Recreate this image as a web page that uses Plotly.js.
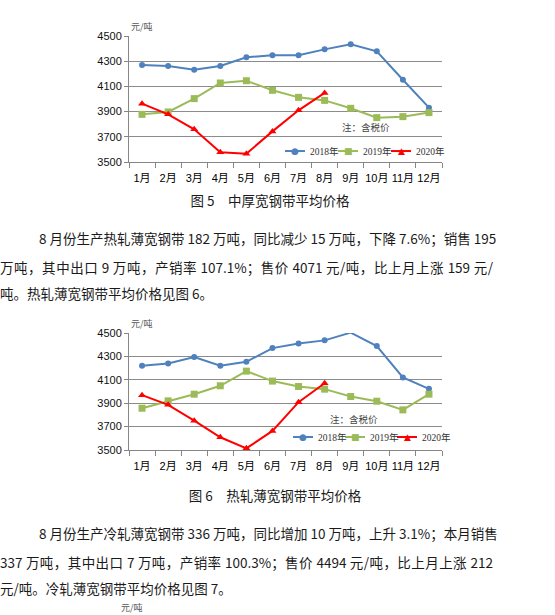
<!DOCTYPE html>
<html>
<head>
<meta charset="utf-8">
<script src="https://cdn.plot.ly/plotly-3.0.1.min.js"></script>
<style>
html,body{margin:0;padding:0;background:#fff;width:555px;height:615px;overflow:hidden;}
.t{position:absolute;font-family:"Noto Sans CJK SC","Liberation Serif",serif;font-size:13.5px;line-height:20px;color:#1a1a1a;white-space:nowrap;}
.j{text-align:justify;text-align-last:justify;}
.c{position:absolute;}
</style>
</head>
<body>
<div id="c1" class="c" style="left:0;top:10px;width:555px;height:185px;"></div>
<div id="c2" class="c" style="left:0;top:305px;width:555px;height:180px;"></div>

<div class="t" style="left:0;width:540px;top:190px;text-align:center;">图 5　中厚宽钢带平均价格</div>
<div class="t j" style="left:39px;width:457px;top:228px;">8 月份生产热轧薄宽钢带 182 万吨，同比减少 15 万吨，下降 7.6%；销售 195</div>
<div class="t j" style="left:0;width:493px;top:257px;">万吨，其中出口 9 万吨，产销率 107.1%；售价 4071 元/吨，比上月上涨 159 元/</div>
<div class="t" style="left:0;top:283px;">吨。热轧薄宽钢带平均价格见图 6。</div>

<div class="t" style="left:0;width:550px;top:485px;text-align:center;">图 6　热轧薄宽钢带平均价格</div>
<div class="t j" style="left:39px;width:457px;top:523px;">8 月份生产冷轧薄宽钢带 336 万吨，同比增加 10 万吨，上升 3.1%；本月销售</div>
<div class="t j" style="left:0;width:493px;top:552px;">337 万吨，其中出口 7 万吨，产销率 100.3%；售价 4494 元/吨，比上月上涨 212</div>
<div class="t" style="left:0;top:578px;">元/吨。冷轧薄宽钢带平均价格见图 7。</div>
<div class="t" style="left:121px;top:602px;font-size:9px;line-height:12px;color:#555;">元/吨</div>

<script>
var months = ["1月","2月","3月","4月","5月","6月","7月","8月","9月","10月","11月","12月"];
var seriesNames = ["2018年","2019年","2020年"];

// 图5 中厚宽钢带平均价格
var fig5_2018 = [4270,4262,4233,4262,4331,4347,4347,4394,4434,4378,4153,3931];
var fig5_2019 = [3878,3897,4003,4127,4145,4069,4013,3989,3926,3852,3860,3892];
var fig5_2020 = [3963,3878,3759,3577,3566,3743,3910,4048];

// 图6 热轧薄宽钢带平均价格
var fig6_2018 = [4220,4240,4294,4220,4254,4371,4411,4437,4503,4389,4120,4023];
var fig6_2019 = [3857,3920,3977,4049,4174,4089,4043,4020,3957,3917,3843,3977];
var fig6_2020 = [3969,3886,3751,3609,3514,3663,3909,4071];

var yTicks = [3500,3700,3900,4100,4300,4500];

var colors = ["#4F81BD","#9BBB59","#FF0000"];
var symbols = ["circle","square","triangle-up"];
var glyphs = ["●","■","▲"];
var glyphSize = [9,9,9];
var msizes = [6,7,7];

var PL = 129, PW = 313; // plot left / width in px
function px(x){ return (x - PL) / PW; }

function traces(a,b,c){
  var data=[a,b,c];
  return data.map(function(v,i){
    return {type:"scatter",mode:"lines+markers",x:months.slice(0,v.length),y:v,name:seriesNames[i],cliponaxis:false,
      line:{color:colors[i],width:2},marker:{color:colors[i],symbol:symbols[i],size:msizes[i]}};
  });
}

function layout(m, legStart, legPitch, legY, noteX, noteY){
  var shapes=[], ann=[
    {text:"元/吨",xref:"paper",yref:"paper",x:0,y:1.01,xanchor:"left",yanchor:"bottom",showarrow:false,
     font:{family:"Noto Sans CJK SC",size:9,color:"#555"}},
    {text:"注：含税价",xref:"paper",yref:"paper",x:noteX,y:noteY,xanchor:"center",yanchor:"middle",showarrow:false,
     font:{family:"Noto Sans CJK SC",size:9.5,color:"#444"}}
  ];
  seriesNames.forEach(function(n,i){
    var s = legStart + i*legPitch;
    shapes.push({type:"line",xref:"paper",yref:"paper",x0:px(s),x1:px(s+20),y0:legY,y1:legY,
      line:{color:colors[i],width:2}});
    ann.push({text:glyphs[i],xref:"paper",yref:"paper",x:px(s+10),y:legY,xanchor:"center",yanchor:"middle",
      showarrow:false,font:{family:"DejaVu Sans",size:glyphSize[i],color:colors[i]}});
    ann.push({text:n,xref:"paper",yref:"paper",x:px(s+23),y:legY,xanchor:"left",yanchor:"middle",
      showarrow:false,font:{family:"Liberation Serif, Noto Sans CJK SC, serif",size:9.5,color:"#333"}});
  });
  return {
    width:555,height:m.h,
    margin:{l:PL,r:555-PL-PW,t:m.t,b:m.b,pad:0},
    paper_bgcolor:"rgba(0,0,0,0)",plot_bgcolor:"rgba(0,0,0,0)",
    showlegend:false,
    font:{family:"Liberation Sans, Noto Sans CJK SC, sans-serif",size:11,color:"#222"},
    xaxis:{type:"category",range:[-0.5,11.5],showgrid:false,showline:true,linecolor:"#868686",linewidth:1,
      ticks:"outside",tickson:"boundaries",ticklen:5,tickcolor:"#868686",tickangle:0,automargin:false,ticklabelstandoff:6,
      tickfont:{family:"Liberation Sans, Noto Sans CJK SC, sans-serif",size:11,color:"#000"},fixedrange:true},
    yaxis:{range:[3500,4500],tickvals:yTicks,ticktext:yTicks.map(String),showgrid:true,gridcolor:"#8c8c8c",gridwidth:1,
      showline:true,linecolor:"#868686",linewidth:1,ticks:"outside",ticklen:4,tickcolor:"#868686",zeroline:false,automargin:false,
      tickfont:{family:"Liberation Sans, sans-serif",size:11,color:"#111"},fixedrange:true},
    shapes:shapes,
    annotations:ann
  };
}

Plotly.newPlot("c1",traces(fig5_2018,fig5_2019,fig5_2020),
  layout({h:185,t:26,b:33},285,53,0.087,0.757,0.278),{staticPlot:true,displayModeBar:false});
Plotly.newPlot("c2",traces(fig6_2018,fig6_2019,fig6_2020),
  layout({h:180,t:28,b:35},293,52,0.111,0.72,0.265),{staticPlot:true,displayModeBar:false});
</script>
</body>
</html>
